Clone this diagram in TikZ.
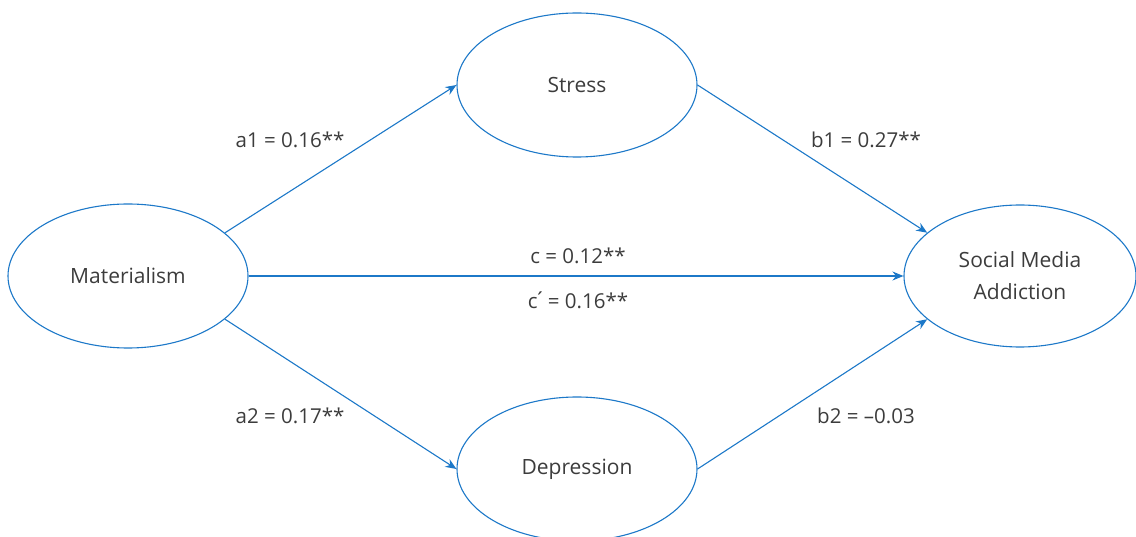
\documentclass[tikz,border=0pt]{standalone}
\usepackage{fontspec}
\setmainfont{Open Sans}
\usetikzlibrary{arrows.meta,shapes.geometric}
\definecolor{lineblue}{RGB}{28,120,200}
\definecolor{txt}{RGB}{60,60,60}
\begin{document}
\begin{tikzpicture}[x=1pt,y=-1pt,
  var/.style={ellipse,draw=lineblue,line width=1.1pt,minimum width=240pt,minimum height=144pt,inner sep=0pt,text=txt,font=\fontsize{21}{32}\selectfont,align=center},
  conn/.style={draw=lineblue,line width=1.1pt,-{Stealth[length=11pt,width=9pt]}},
  lab/.style={text=txt,font=\fontsize{20.5}{24}\selectfont,inner sep=0pt}]
\useasboundingbox (0,0) rectangle (1136,537);
\node[var] (mat) at (128,276) {Materialism};
\node[var] (str) at (577,85) {Stress};
\node[var] (dep) at (577,469) {Depression};
\node[var,minimum width=232pt,minimum height=142pt] (sma) at (1020,276) {Social Media\\Addiction};
\draw[conn] (mat.24) -- (str.west);
\draw[conn] (str.east) -- (sma.155);
\draw[conn] (mat.east) -- (sma.west);
\draw[conn] (mat.-24) -- (dep.west);
\draw[conn] (dep.east) -- (sma.205);
\node[lab] (la1) at (290,140) {a1 = 0.16**};
\node[lab] (lb1) at (866,140) {b1 = 0.27**};
\node[lab] (lc) at (578,256) {c = 0.12**};
\node[lab] (lcp) at (578,300) {c\makebox[5pt][c]{\raisebox{1pt}{´}} = 0.16**};
\node[lab] (la2) at (290,416) {a2 = 0.17**};
\node[lab] (lb2) at (866,416) {b2 = –0.03};
\end{tikzpicture}
\end{document}
